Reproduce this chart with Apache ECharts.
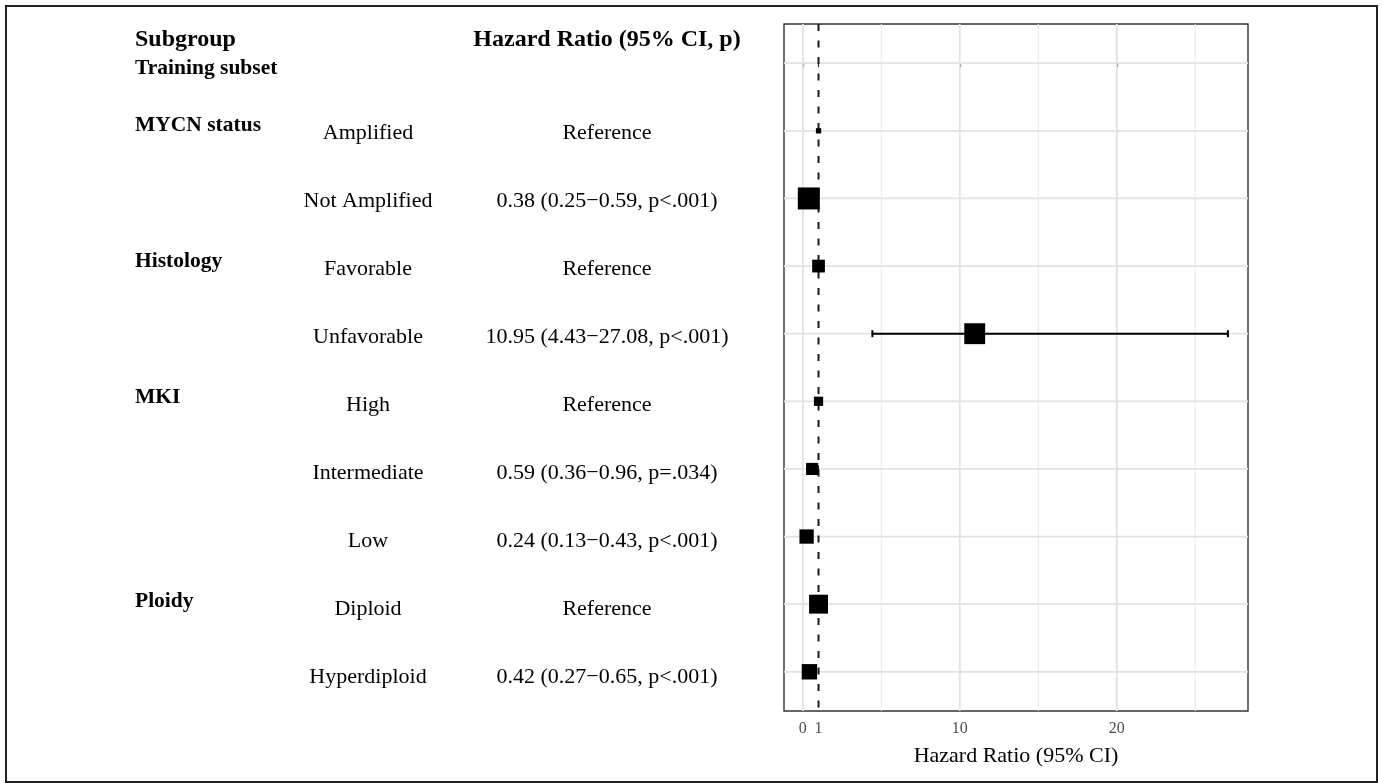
<!DOCTYPE html>
<html>
<head>
<meta charset="utf-8">
<title>Hazard Ratio forest plot</title>
<script src="https://cdn.jsdelivr.net/npm/echarts@6/dist/echarts.min.js"></script>
<style>
  html, body { margin: 0; padding: 0; background: #fff; }
  #chart { width: 1383px; height: 783px; }
</style>
</head>
<body>
<div id="chart"></div>
<script>
// ---- data ----
const groupLabels = ['Training subset', 'MYCN status', '', 'Histology', '', 'MKI', '', '', 'Ploidy', ''];
const subgroupLabels = ['', 'Amplified', 'Not Amplified', 'Favorable', 'Unfavorable', 'High', 'Intermediate', 'Low', 'Diploid', 'Hyperdiploid'];
const hazardRatio = [null, 1, 0.38, 1, 10.95, 1, 0.59, 0.24, 1, 0.42];
const ciLower = [null, 1, 0.25, 1, 4.43, 1, 0.36, 0.13, 1, 0.27];
const ciUpper = [null, 1, 0.59, 1, 27.08, 1, 0.96, 0.43, 1, 0.65];
const pValues = [null, null, '<.001', null, '<.001', null, '=.034', '<.001', null, '<.001'];
const isReference = [false, true, false, true, false, true, false, false, true, false];
const boxWeight = [null, 0.24, 1.0, 0.58, 0.95, 0.42, 0.55, 0.65, 0.86, 0.70];
const xTickValues = [0, 1, 10, 20];
const majorGridX = [0, 10, 20];
const minorGridX = [5, 15, 25];
const nullEffect = 1;

// ---- layout ----
const FONT = "'Liberation Serif', 'DejaVu Serif', serif";
const BOX_MAX = 22;
const rowCount = subgroupLabels.length;
const rowIdx = subgroupLabels.map((_, i) => i);
// plot panel rows
const yMin = -0.58, yMax = rowCount - 1 + 0.58;
// text table rows (slightly looser spacing than the panel)
const tMin = -0.603, tMax = 9.5;
const colGroupX = 135, colSubX = 368, colHrX = 607;

const fmt = v => v.toFixed(2);
const hrText = hazardRatio.map((h, i) => {
  if (h === null) return '';
  if (isReference[i]) return 'Reference';
  return fmt(h) + ' (' + fmt(ciLower[i]) + '\u2212' + fmt(ciUpper[i]) + ', p' + pValues[i] + ')';
});

// text table rows: [columnX, row, text, kind]
const tableRows = [];
rowIdx.forEach(i => {
  if (groupLabels[i]) tableRows.push([colGroupX, i, groupLabels[i], i === 0 ? 'top' : 'group']);
  if (subgroupLabels[i]) tableRows.push([colSubX, i, subgroupLabels[i], 'sub']);
  if (hrText[i]) tableRows.push([colHrX, i, hrText[i], 'hr']);
});

const boxData = [];
const ciData = [];
rowIdx.forEach(i => {
  if (hazardRatio[i] === null) return;
  boxData.push({ value: [hazardRatio[i], i], symbolSize: boxWeight[i] * BOX_MAX });
  ciData.push([ciLower[i], ciUpper[i], i]);
});

const chart = echarts.init(document.getElementById('chart'), null, { renderer: 'canvas' });

function vLine(color, width, dash) {
  return function (params, api) {
    const cs = params.coordSys;
    const x = api.coord([api.value(0), 0])[0];
    return {
      type: 'line',
      shape: { x1: x, y1: cs.y, x2: x, y2: cs.y + cs.height },
      style: { stroke: color, lineWidth: width, lineDash: dash || null }
    };
  };
}

const option = {
  animation: false,
  backgroundColor: '#fff',
  graphic: [
    { type: 'rect', shape: { x: 6, y: 6, width: 1371, height: 776 },
      style: { fill: null, stroke: '#222', lineWidth: 2 }, z: 100 },
    { type: 'text', x: colGroupX, y: 40,
      style: { text: 'Subgroup', fill: '#000', font: 'bold 24px ' + FONT, align: 'left', verticalAlign: 'middle' } },
    { type: 'text', x: colHrX, y: 40,
      style: { text: 'Hazard Ratio (95% CI, p)', fill: '#000', font: 'bold 24px ' + FONT, align: 'center', verticalAlign: 'middle' } }
  ],
  grid: [
    { left: 784, top: 24, right: 135, bottom: 72, show: true, backgroundColor: '#fff',
      borderColor: '#333', borderWidth: 1.4 },
    { left: 0, top: 24, width: 784, bottom: 72, show: false }
  ],
  xAxis: [
    {
      type: 'value', gridIndex: 0, min: -1.2, max: 28.36,
      axisLine: { show: false },
      axisTick: { show: true, customValues: xTickValues, length: 4, lineStyle: { color: '#333', width: 1.2 } },
      axisLabel: { customValues: xTickValues, color: '#4d4d4d', fontSize: 16, fontFamily: FONT, margin: 10 },
      splitLine: { show: false },
      name: 'Hazard Ratio (95% CI)', nameLocation: 'middle', nameGap: 34,
      nameTextStyle: { color: '#000', fontSize: 22, fontFamily: FONT }
    },
    { type: 'value', gridIndex: 1, min: 0, max: 784, show: false }
  ],
  yAxis: [
    { type: 'value', gridIndex: 0, min: yMin, max: yMax, inverse: true, show: false, splitLine: { show: false } },
    { type: 'value', gridIndex: 1, min: tMin, max: tMax, inverse: true, show: false, splitLine: { show: false } }
  ],
  series: [
    // minor vertical grid
    { type: 'custom', xAxisIndex: 0, yAxisIndex: 0, z: 1, silent: true,
      data: minorGridX.map(v => [v]), renderItem: vLine('#ebebeb', 1.1) },
    // major vertical grid
    { type: 'custom', xAxisIndex: 0, yAxisIndex: 0, z: 1, silent: true,
      data: majorGridX.map(v => [v]), renderItem: vLine('#e2e2e2', 1.8) },
    // horizontal grid at each row
    { type: 'custom', xAxisIndex: 0, yAxisIndex: 0, z: 1, silent: true,
      data: rowIdx.map(i => [0, i]),
      renderItem: function (params, api) {
        const cs = params.coordSys;
        const y = api.coord([0, api.value(1)])[1];
        return { type: 'line', shape: { x1: cs.x, y1: y, x2: cs.x + cs.width, y2: y },
          style: { stroke: '#e2e2e2', lineWidth: 1.8 } };
      } },
    // line of no effect
    { type: 'custom', xAxisIndex: 0, yAxisIndex: 0, z: 3, silent: true,
      data: [[nullEffect]], renderItem: vLine('#1a1a1a', 2, [7, 9.5]) },
    // confidence intervals
    { type: 'custom', xAxisIndex: 0, yAxisIndex: 0, z: 4, silent: true,
      data: ciData,
      renderItem: function (params, api) {
        const lo = api.coord([api.value(0), api.value(2)]);
        const hi = api.coord([api.value(1), api.value(2)]);
        if (Math.abs(hi[0] - lo[0]) < 0.5) return null;
        const cap = 3.5;
        const st = { stroke: '#000', lineWidth: 2 };
        return { type: 'group', children: [
          { type: 'line', shape: { x1: lo[0], y1: lo[1], x2: hi[0], y2: hi[1] }, style: st },
          { type: 'line', shape: { x1: lo[0], y1: lo[1] - cap, x2: lo[0], y2: lo[1] + cap }, style: st },
          { type: 'line', shape: { x1: hi[0], y1: hi[1] - cap, x2: hi[0], y2: hi[1] + cap }, style: st }
        ] };
      } },
    // point estimates
    { type: 'scatter', xAxisIndex: 0, yAxisIndex: 0, z: 5, silent: true,
      symbol: 'rect', itemStyle: { color: '#000', opacity: 1 }, data: boxData },
    // text table
    { type: 'custom', xAxisIndex: 1, yAxisIndex: 1, z: 5, silent: true,
      data: tableRows,
      renderItem: function (params, api) {
        const row = tableRows[params.dataIndex];
        const p = api.coord([row[0], row[1]]);
        const kind = row[3];
        let font = '22px ' + FONT, align = 'center', dy = 0;
        if (kind === 'group') { font = 'bold 21.5px ' + FONT; align = 'left'; dy = -8; }
        if (kind === 'top') { font = 'bold 21.5px ' + FONT; align = 'left'; dy = 3; }
        return { type: 'text', x: p[0], y: p[1] + dy,
          style: { text: row[2], fill: '#000', font: font, align: align, verticalAlign: 'middle' } };
      } }
  ]
};

chart.setOption(option);
</script>
</body>
</html>
